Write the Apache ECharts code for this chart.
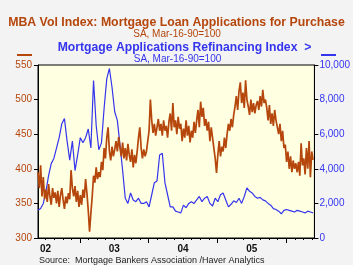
<!DOCTYPE html>
<html>
<head>
<meta charset="utf-8">
<script src="https://cdn.jsdelivr.net/npm/echarts@6/dist/echarts.min.js"></script>
<style>
html,body{margin:0;padding:0;background:#F3F3F3;}
#c{width:353px;height:265px;}
</style>
</head>
<body>
<div id="c"></div>
<script>
// Weekly purchase index (left axis), starting mid-May 2002
var purchaseStart = 2002.39;
var purchaseStep = 1 / 52;
var purchase = [
  395, 372, 405, 360, 388, 356,
  370, 352, 378, 360, 348, 372, 358, 366,
  350, 368, 345, 362, 372, 355, 342, 360, 350, 365, 356,
  398, 372,
  360, 375, 352, 368, 345, 362, 348, 370, 358,
  385, 365, 340, 309,
  336, 360,
  390, 380, 402, 385, 395, 388,
  410, 398, 430, 415, 445, 460,
  425, 412, 432, 418, 428,
  440, 425, 446, 430,
  418, 438, 415, 430, 412, 436, 420,
  410, 428, 402, 420, 408, 425, 445, 460,
  430, 415, 428, 418, 425, 440, 455,
  500,
  470, 452, 465, 448, 460, 472, 455,
  465, 448, 470, 455, 462, 445, 468,
  480, 455, 495, 460, 470, 450, 475, 458,
  465, 440, 458, 445, 470, 448, 462, 438, 455, 445, 468, 452,
  470, 485, 460, 497, 475, 488, 462, 472,
  455, 468, 440, 460, 445, 430, 415, 394,
  420, 440, 418, 432, 425, 445, 430,
  450, 465, 455, 472, 460, 478,
  490, 505, 485, 512, 525,
  495, 510, 488, 528, 500,
  490, 478, 500, 482, 495, 480, 492,
  498, 485, 505, 490, 514, 495, 500,
  488, 470, 492, 465, 480, 462, 485, 470,
  472, 450, 465, 440, 455, 430,
  435, 410, 425, 400, 418, 395, 412, 400, 408,
  395, 410, 390, 437, 405, 415, 392,
  430, 400, 440, 388, 425, 413
];
// Bi-weekly refinancing index (right axis)
var refiStart = 2002.39;
var refiStep = 2 / 52;
var refi = [
  1600, 1700, 2000, 2700, 3600, 4300, 4600, 5200, 5800, 6600,
  6900, 5600, 4500, 5600, 3900, 4800, 5800, 5500, 5800, 6300,
  5200, 9100, 6500, 5100, 5500, 7500, 9200, 9800, 8700, 7300,
  6800, 5400, 3900, 2300, 2000, 2600, 2200, 2100, 2300, 2000,
  2000, 2100, 1800, 2500, 3200, 3300, 4800, 4900, 3200, 2500,
  1800, 1800, 1550, 1500, 1450, 1900, 1750, 2000, 2100, 2000,
  2200, 2400, 2100, 2300, 2400, 2000, 1850, 2300, 2100, 2500,
  2600, 2200, 1800, 1950, 2150, 2050, 2300, 2000, 2400, 2900,
  2700, 2600, 2400, 2300, 2350, 2200, 2150, 2000, 1900, 1700,
  1650, 1550, 1400, 1600, 1650, 1600, 1550, 1500, 1600, 1550,
  1500, 1450, 1550, 1500, 1450
];
var leftTicks = [300, 350, 400, 450, 500, 550];
var rightTicks = [0, 2000, 4000, 6000, 8000, 10000];
var yearTicks = [2003, 2004, 2005, 2006];
var yearLabels = [2002.5, 2003.5, 2004.5, 2005.5];
var xMin = 2002.39, xMax = 2006.41;

var minorTicks = [];
for (var t = 2002.5; t < xMax; t += 0.125) { if (t > xMin) minorTicks.push(t); }

var purchaseData = purchase.map(function (v, i) { return [purchaseStart + i * purchaseStep, v]; });
var refiData = refi.map(function (v, i) { return [refiStart + i * refiStep, v]; });

var brown = '#B5460C';
var blue = '#3535EE';
var font = 'Liberation Sans, Arial, sans-serif';

var chart = echarts.init(document.getElementById('c'));
chart.setOption({
  backgroundColor: '#F3F3F3',
  animation: false,
  grid: {
    left: 38, right: 37, top: 65, bottom: 27,
    show: true, backgroundColor: '#FFFFE2', borderColor: '#000', borderWidth: 1
  },
  graphic: [
    { type: 'text', x: 176.5, y: 23, style: { text: 'MBA Vol Index: Mortgage Loan Applications for Purchase', fill: brown, font: 'bold 12.3px ' + font, textAlign: 'center', textVerticalAlign: 'middle' } },
    { type: 'text', x: 177, y: 34.5, style: { text: 'SA, Mar-16-90=100', fill: brown, font: '10px ' + font, textAlign: 'center', textVerticalAlign: 'middle' } },
    { type: 'text', x: 184.5, y: 47.5, style: { text: 'Mortgage Applications Refinancing Index  >', fill: blue, font: 'bold 12.2px ' + font, textAlign: 'center', textVerticalAlign: 'middle' } },
    { type: 'text', x: 177.5, y: 59.5, style: { text: 'SA, Mar-16-90=100', fill: blue, font: '10px ' + font, textAlign: 'center', textVerticalAlign: 'middle' } },
    { type: 'line', shape: { x1: 17, y1: 55, x2: 32, y2: 55 }, style: { stroke: brown, lineWidth: 2 } },
    { type: 'line', shape: { x1: 321, y1: 55, x2: 336, y2: 55 }, style: { stroke: blue, lineWidth: 2 } },
    { type: 'text', x: 39, y: 261, style: { text: 'Source:  Mortgage Bankers Association /Haver Analytics', fill: '#222', font: '9px ' + font, textAlign: 'left', textVerticalAlign: 'middle' } }
  ],
  xAxis: [
    {
      type: 'value', min: xMin, max: xMax,
      axisLine: { show: true, lineStyle: { color: '#000', width: 1 } },
      axisTick: { show: true, customValues: yearTicks, length: 5, lineStyle: { color: '#000' } },
      axisLabel: { show: true, customValues: yearLabels, margin: 6, color: '#111', fontSize: 10, fontFamily: font, fontWeight: 'bold',
        formatter: function (v) { return String(Math.floor(v)).slice(2); } },
      splitLine: { show: false }
    },
    {
      type: 'value', min: xMin, max: xMax, position: 'bottom',
      axisLine: { show: false },
      axisTick: { show: true, customValues: minorTicks, length: 2, lineStyle: { color: '#000' } },
      axisLabel: { show: false },
      splitLine: { show: false }
    }
  ],
  yAxis: [
    {
      type: 'value', min: 300, max: 550, interval: 50, position: 'left',
      axisLine: { show: true, lineStyle: { color: '#000' } },
      axisTick: { show: true, length: 4, lineStyle: { color: '#000' } },
      axisLabel: { color: brown, fontSize: 10, fontFamily: font, margin: 6 },
      splitLine: { show: false }
    },
    {
      type: 'value', min: 0, max: 10000, interval: 2000, position: 'right',
      axisLine: { show: true, lineStyle: { color: '#000' } },
      axisTick: { show: true, length: 4, lineStyle: { color: '#000' } },
      axisLabel: { color: blue, fontSize: 10, fontFamily: font, margin: 5 },
      splitLine: { show: false }
    }
  ],
  series: [
    { type: 'line', name: 'Refinancing', xAxisIndex: 0, yAxisIndex: 1, data: refiData, showSymbol: false,
      lineStyle: { color: blue, width: 1.2 }, z: 2 },
    { type: 'line', name: 'Purchase', xAxisIndex: 0, yAxisIndex: 0, data: purchaseData, showSymbol: false,
      lineStyle: { color: brown, width: 1.7 }, z: 3 }
  ]
});
</script>
</body>
</html>
